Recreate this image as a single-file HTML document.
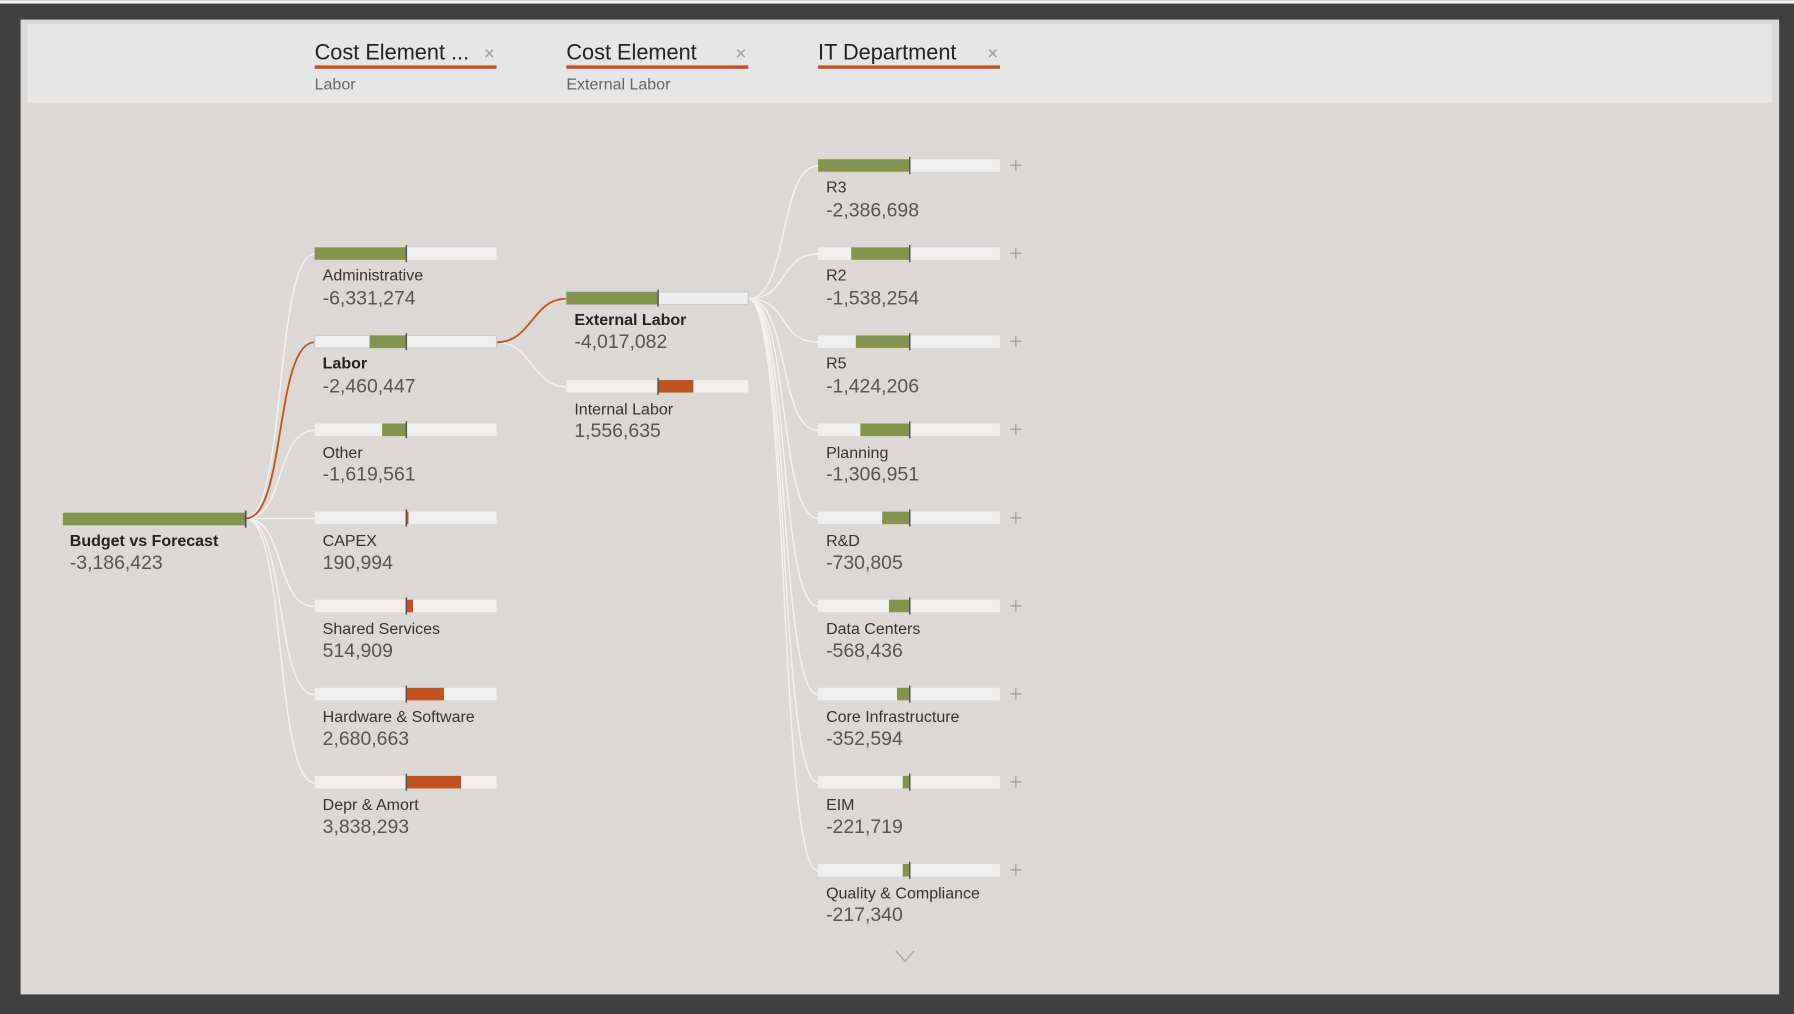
<!DOCTYPE html>
<html><head><meta charset="utf-8"><style>
html,body{margin:0;padding:0;background:#404040;}
svg{display:block}
text{font-family:"Liberation Sans",sans-serif;}
.lb{font-size:14px;fill:#333}
.vl{font-size:17px;fill:#555}
.bd{font-weight:bold;fill:#222}
.pl{font-size:20px;fill:#aaa}
</style></head><body>
<svg width="1794" height="1014" viewBox="0 0 1568 886" xmlns="http://www.w3.org/2000/svg">
<rect x="0" y="0" width="1568" height="886" fill="#404040"/>
<rect x="0" y="0" width="1568" height="3" fill="#f0f0f0"/>
<rect x="18" y="17" width="1537" height="852" fill="#dbd8d6"/>
<rect x="24" y="21" width="1525" height="69" fill="#e6e6e6"/>
<!-- header -->
<g>
<text x="275" y="52" font-size="19" fill="#222">Cost Element ...</text>
<text x="423" y="52" font-size="16" fill="#999">×</text>
<rect x="275" y="57" width="159" height="3" fill="#c0531f"/>
<text x="275" y="78" font-size="14" fill="#666">Labor</text>
<text x="495" y="52" font-size="19" fill="#222">Cost Element</text>
<text x="643" y="52" font-size="16" fill="#999">×</text>
<rect x="495" y="57" width="159" height="3" fill="#c0531f"/>
<text x="495" y="78" font-size="14" fill="#666">External Labor</text>
<text x="715" y="52" font-size="19" fill="#222">IT Department</text>
<text x="863" y="52" font-size="16" fill="#999">×</text>
<rect x="715" y="57" width="159" height="3" fill="#c0531f"/>
</g>
<!-- connectors -->
<g fill="none" stroke="#f2f2f2" stroke-width="1.3">
<path d="M215,453 C250,453 240,222 275,222"/>
<path d="M215,453 C250,453 240,376 275,376"/>
<path d="M215,453 L275,453"/>
<path d="M215,453 C250,453 240,530 275,530"/>
<path d="M215,453 C250,453 240,607 275,607"/>
<path d="M215,453 C250,453 240,684 275,684"/>
<path d="M434,299 C465,299 465,338 495,338"/>
<path d="M654,261 C690,261 680,145 715,145"/>
<path d="M654,261 C690,261 680,222 715,222"/>
<path d="M654,261 C690,261 680,299 715,299"/>
<path d="M654,261 C690,261 680,376 715,376"/>
<path d="M654,261 C690,261 680,453 715,453"/>
<path d="M654,261 C690,261 680,530 715,530"/>
<path d="M654,261 C690,261 680,607 715,607"/>
<path d="M654,261 C690,261 680,684 715,684"/>
<path d="M654,261 C690,261 680,761 715,761"/>
</g>
<g fill="none" stroke="#c0531f" stroke-width="1.6">
<path d="M215,453 C250,453 240,299 275,299"/>
<path d="M434,299 C465,299 465,261 495,261"/>
</g>
<!-- root -->
<rect x="55" y="448" width="160" height="11" fill="#84944f"/>
<rect x="214" y="446" width="1.5" height="15" fill="#555"/>
<text x="61" y="477" class="lb bd">Budget vs Forecast</text>
<text x="61" y="497" class="vl">-3,186,423</text>
<!-- level1 -->
<g>
<rect x="275" y="216" width="159" height="11" fill="#efefef"/><rect x="275" y="216" width="80" height="11" fill="#84944f"/><rect x="354.5" y="214" width="1.3" height="15" fill="#555"/>
<text x="282" y="245" class="lb">Administrative</text><text x="282" y="266" class="vl">-6,331,274</text>

<rect x="275" y="293" width="159" height="11" fill="#efefef" stroke="#ccc" stroke-width="1"/><rect x="323" y="293" width="32" height="11" fill="#84944f"/><rect x="354.5" y="291" width="1.3" height="15" fill="#555"/>
<text x="282" y="322" class="lb bd">Labor</text><text x="282" y="343" class="vl">-2,460,447</text>

<rect x="275" y="370" width="159" height="11" fill="#efefef"/><rect x="334" y="370" width="21" height="11" fill="#84944f"/><rect x="354.5" y="368" width="1.3" height="15" fill="#555"/>
<text x="282" y="400" class="lb">Other</text><text x="282" y="420" class="vl">-1,619,561</text>

<rect x="275" y="447" width="159" height="11" fill="#efefef"/><rect x="355" y="447" width="2" height="11" fill="#c0521f"/><rect x="354.5" y="445" width="1.3" height="15" fill="#555"/>
<text x="282" y="477" class="lb">CAPEX</text><text x="282" y="497" class="vl">190,994</text>

<rect x="275" y="524" width="159" height="11" fill="#efefef"/><rect x="355" y="524" width="6" height="11" fill="#c0521f"/><rect x="354.5" y="522" width="1.3" height="15" fill="#555"/>
<text x="282" y="554" class="lb">Shared Services</text><text x="282" y="574" class="vl">514,909</text>

<rect x="275" y="601" width="159" height="11" fill="#efefef"/><rect x="355" y="601" width="33" height="11" fill="#c0521f"/><rect x="354.5" y="599" width="1.3" height="15" fill="#555"/>
<text x="282" y="631" class="lb">Hardware &amp; Software</text><text x="282" y="651" class="vl">2,680,663</text>

<rect x="275" y="678" width="159" height="11" fill="#efefef"/><rect x="355" y="678" width="48" height="11" fill="#c0521f"/><rect x="354.5" y="676" width="1.3" height="15" fill="#555"/>
<text x="282" y="708" class="lb">Depr &amp; Amort</text><text x="282" y="728" class="vl">3,838,293</text>
</g>
<!-- level2 -->
<rect x="495" y="255" width="159" height="11" fill="#efefef" stroke="#ccc" stroke-width="1"/><rect x="495" y="255" width="80" height="11" fill="#84944f"/><rect x="574.5" y="253" width="1.3" height="15" fill="#555"/>
<text x="502" y="284" class="lb bd">External Labor</text><text x="502" y="304" class="vl">-4,017,082</text>
<rect x="495" y="332" width="159" height="11" fill="#efefef"/><rect x="575" y="332" width="31" height="11" fill="#c0521f"/><rect x="574.5" y="330" width="1.3" height="15" fill="#555"/>
<text x="502" y="362" class="lb">Internal Labor</text><text x="502" y="382" class="vl">1,556,635</text>
<!-- level3 -->
<g>
<rect x="715" y="139" width="159" height="11" fill="#efefef"/><rect x="715" y="139" width="80" height="11" fill="#84944f"/><rect x="794.5" y="137" width="1.3" height="15" fill="#555"/><text x="882" y="151" class="pl">+</text>
<text x="722" y="168" class="lb">R3</text><text x="722" y="189" class="vl">-2,386,698</text>

<rect x="715" y="216" width="159" height="11" fill="#efefef"/><rect x="744" y="216" width="51" height="11" fill="#84944f"/><rect x="794.5" y="214" width="1.3" height="15" fill="#555"/><text x="882" y="228" class="pl">+</text>
<text x="722" y="245" class="lb">R2</text><text x="722" y="266" class="vl">-1,538,254</text>

<rect x="715" y="293" width="159" height="11" fill="#efefef"/><rect x="748" y="293" width="47" height="11" fill="#84944f"/><rect x="794.5" y="291" width="1.3" height="15" fill="#555"/><text x="882" y="305" class="pl">+</text>
<text x="722" y="322" class="lb">R5</text><text x="722" y="343" class="vl">-1,424,206</text>

<rect x="715" y="370" width="159" height="11" fill="#efefef"/><rect x="752" y="370" width="43" height="11" fill="#84944f"/><rect x="794.5" y="368" width="1.3" height="15" fill="#555"/><text x="882" y="382" class="pl">+</text>
<text x="722" y="400" class="lb">Planning</text><text x="722" y="420" class="vl">-1,306,951</text>

<rect x="715" y="447" width="159" height="11" fill="#efefef"/><rect x="771" y="447" width="24" height="11" fill="#84944f"/><rect x="794.5" y="445" width="1.3" height="15" fill="#555"/><text x="882" y="459" class="pl">+</text>
<text x="722" y="477" class="lb">R&amp;D</text><text x="722" y="497" class="vl">-730,805</text>

<rect x="715" y="524" width="159" height="11" fill="#efefef"/><rect x="777" y="524" width="18" height="11" fill="#84944f"/><rect x="794.5" y="522" width="1.3" height="15" fill="#555"/><text x="882" y="536" class="pl">+</text>
<text x="722" y="554" class="lb">Data Centers</text><text x="722" y="574" class="vl">-568,436</text>

<rect x="715" y="601" width="159" height="11" fill="#efefef"/><rect x="784" y="601" width="11" height="11" fill="#84944f"/><rect x="794.5" y="599" width="1.3" height="15" fill="#555"/><text x="882" y="613" class="pl">+</text>
<text x="722" y="631" class="lb">Core Infrastructure</text><text x="722" y="651" class="vl">-352,594</text>

<rect x="715" y="678" width="159" height="11" fill="#efefef"/><rect x="789" y="678" width="6" height="11" fill="#84944f"/><rect x="794.5" y="676" width="1.3" height="15" fill="#555"/><text x="882" y="690" class="pl">+</text>
<text x="722" y="708" class="lb">EIM</text><text x="722" y="728" class="vl">-221,719</text>

<rect x="715" y="755" width="159" height="11" fill="#efefef"/><rect x="789" y="755" width="6" height="11" fill="#84944f"/><rect x="794.5" y="753" width="1.3" height="15" fill="#555"/><text x="882" y="767" class="pl">+</text>
<text x="722" y="785" class="lb">Quality &amp; Compliance</text><text x="722" y="805" class="vl">-217,340</text>
</g>
<path d="M783,831 L791,840 L799,831" fill="none" stroke="#aaa" stroke-width="1.3"/>
</svg>
</body></html>
